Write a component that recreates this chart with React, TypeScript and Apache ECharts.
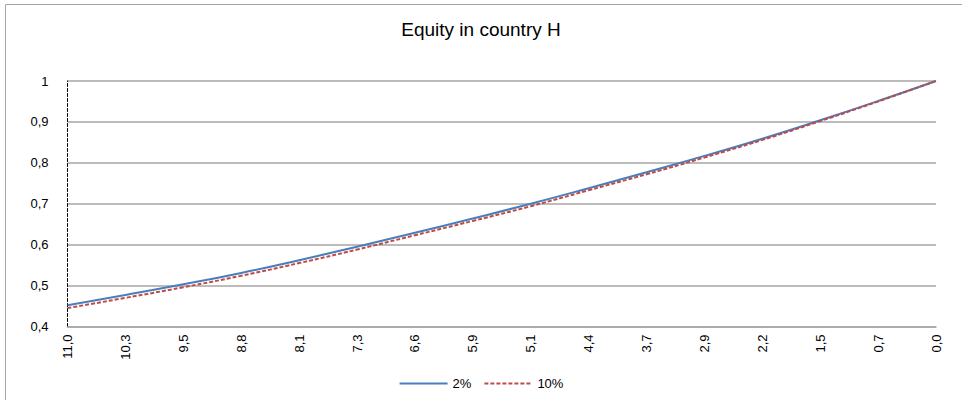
import React, { useEffect, useRef } from "react";
import * as echarts from "echarts";

const categories = ["11,0", "10,3", "9,5", "8,8", "8,1", "7,3", "6,6", "5,9", "5,1", "4,4", "3,7", "2,9", "2,2", "1,5", "0,7", "0,0"];
const series2 = [0.452, 0.477, 0.503, 0.531, 0.562, 0.595, 0.629, 0.664, 0.7, 0.738, 0.777, 0.817, 0.859, 0.904, 0.951, 1.0];
const series10 = [0.445, 0.47, 0.496, 0.524, 0.555, 0.588, 0.623, 0.658, 0.694, 0.733, 0.772, 0.813, 0.856, 0.902, 0.95, 1.0];
const seriesNames = ["2%", "10%"];

const FONT = "Liberation Sans";

export default function App() {
  const ref = useRef<HTMLDivElement>(null);
  useEffect(() => {
    document.body.style.margin = "0";
    const chart = echarts.init(ref.current!, null, { renderer: "svg" });
    chart.setOption({
      animation: false,
      backgroundColor: "#fff",
      textStyle: { fontFamily: FONT },
      title: {
        text: "Equity in country H",
        left: "center",
        top: 15,
        textStyle: { fontFamily: FONT, fontSize: 19, fontWeight: "normal", color: "#000" },
      },
      graphic: [
        {
          type: "rect",
          shape: { x: 5.5, y: 4.5, width: 1000, height: 500 },
          style: { fill: "none", stroke: "#a6a6a6", lineWidth: 1 },
          silent: true,
          z: -1,
        },
      ],
      legend: {
        show: true,
        data: seriesNames,
        top: 372,
        left: "center",
        itemWidth: 48,
        itemHeight: 12,
        itemGap: 12,
        itemStyle: { opacity: 0 },
        textStyle: { fontFamily: FONT, fontSize: 13, color: "#000" },
      },
      grid: { left: 67.5, right: 26, top: 81, bottom: 73.5, containLabel: false },
      xAxis: {
        type: "category",
        data: categories,
        boundaryGap: false,
        axisLine: { show: true, lineStyle: { color: "#a6a6a6", width: 1.5 } },
        axisTick: { show: false },
        axisLabel: { rotate: 90, margin: 8, interval: 0, fontFamily: FONT, fontSize: 13, color: "#000" },
        splitLine: { show: false },
      },
      yAxis: {
        type: "value",
        min: 0.4,
        max: 1,
        interval: 0.1,
        axisLine: { show: true, lineStyle: { color: "#000", type: [3, 2], width: 1 } },
        axisTick: { show: false },
        axisLabel: {
          margin: 19,
          align: "right",
          color: "#000",
          formatter: (v: number) =>
            "{v|" + (Math.abs(v - 1) < 1e-9 ? "1" : v.toFixed(1).replace(".", ",")) + "}",
          rich: {
            v: { width: 30, align: "right", fontFamily: FONT, fontSize: 13, color: "#000" },
          },
        },
        splitLine: { show: true, lineStyle: { color: "#a6a6a6", width: 1.5 } },
      },
      series: [
        {
          name: seriesNames[0],
          type: "line",
          data: series2,
          smooth: true,
          symbol: "none",
          lineStyle: { color: "#4a7ebb", width: 2 },
          itemStyle: { color: "#4a7ebb" },
          z: 2,
        },
        {
          name: seriesNames[1],
          type: "line",
          data: series10,
          smooth: true,
          symbol: "none",
          lineStyle: { color: "#be4b48", width: 2, type: [4, 2] },
          itemStyle: { color: "#be4b48" },
          z: 3,
        },
      ],
    });
    return () => chart.dispose();
  }, []);
  return <div ref={ref} style={{ width: 962, height: 400 }} />;
}
